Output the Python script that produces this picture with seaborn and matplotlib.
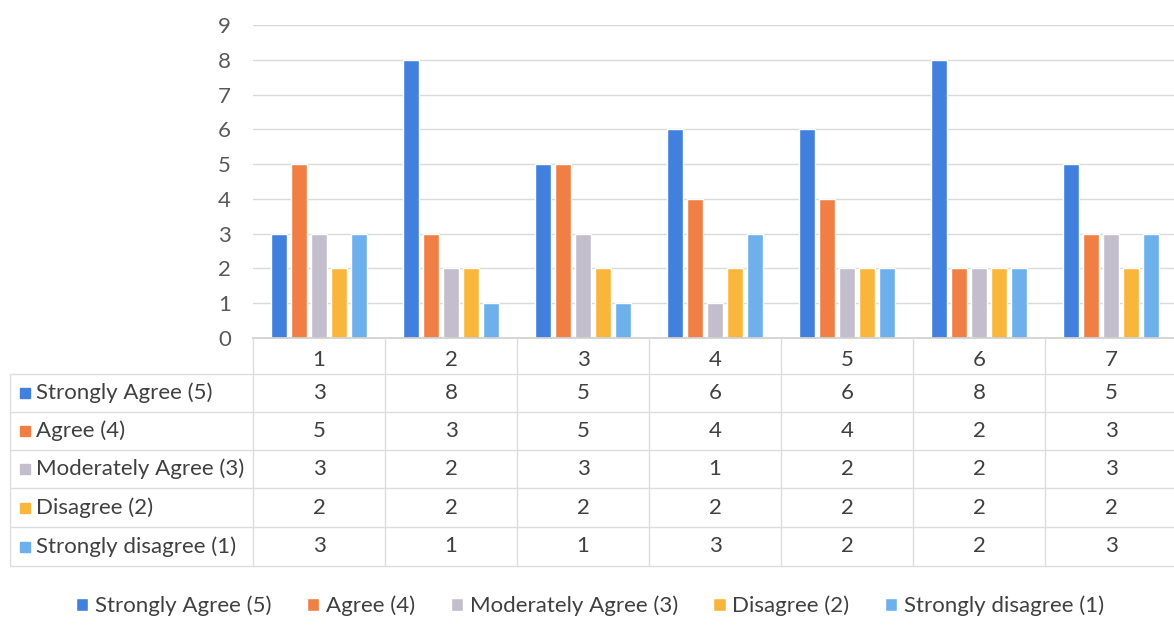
import pandas as pd
import matplotlib
matplotlib.use("Agg")
import matplotlib.pyplot as plt
from matplotlib.patches import Patch
import seaborn as sns

questions = ['1', '2', '3', '4', '5', '6', '7']
strongly_agree = [3, 8, 5, 6, 6, 8, 5]
agree = [5, 3, 5, 4, 4, 2, 3]
moderately_agree = [3, 2, 3, 1, 2, 2, 3]
disagree = [2, 2, 2, 2, 2, 2, 2]
strongly_disagree = [3, 1, 1, 3, 2, 2, 3]
series_names = ['Strongly Agree (5)', 'Agree (4)', 'Moderately Agree (3)',
                'Disagree (2)', 'Strongly disagree (1)']
yticks = list(range(0, 10))

colors = ['#4280DD', '#F07F45', '#C2BECC', '#F8B73C', '#6EB0EC']
series_values = [strongly_agree, agree, moderately_agree, disagree, strongly_disagree]

rows = []
for name, vals in zip(series_names, series_values):
    for q, v in zip(questions, vals):
        rows.append({'question': q, 'count': v, 'response': name})
df = pd.DataFrame(rows)

sns.set_theme(style='white')
plt.rcParams['font.family'] = ['Lato', 'DejaVu Sans']

W, H = 1174, 625
fig = plt.figure(figsize=(W / 100, H / 100), dpi=100)

# layout in pixels
col_left, col_w = 253, 132
y_zero, y_top = 338, 25
table_left = 10
row_edges = [374, 412, 450, 488, 527, 566]
n_cols = len(questions)
fs = 16

ax = fig.add_axes([col_left / W, 1 - y_zero / H, n_cols * col_w / W, (y_zero - y_top) / H])
sns.barplot(data=df, x='question', y='count', hue='response', palette=colors,
            width=0.76, gap=0.2, saturation=1, legend=False, ax=ax)
ax.set_xlim(-0.5, n_cols - 0.5)
ax.set_ylim(0, 9)
ax.set_yticks(yticks)
ax.set_yticklabels([str(t) for t in yticks], color='#595959', fontsize=fs)
ax.tick_params(axis='y', length=0, pad=16)
ax.set_xticks([])
ax.set_xlabel('')
ax.set_ylabel('')
ax.grid(axis='y', color='#DADADA', lw=1)
ax.set_axisbelow(True)
for s in ['top', 'right', 'left']:
    ax.spines[s].set_visible(False)
ax.spines['bottom'].set_color('#D0D0D0')

# data table drawn in pixel space
tax = fig.add_axes([0, 0, 1, 1])
tax.set_xlim(0, W)
tax.set_ylim(H, 0)
tax.axis('off')
line_c = '#DDDDDD'
for k in range(n_cols + 1):
    x = col_left + k * col_w
    tax.plot([x, x], [y_zero, row_edges[-1]], color=line_c, lw=1)
tax.plot([table_left, table_left], [row_edges[0], row_edges[-1]], color=line_c, lw=1)
for y in row_edges:
    tax.plot([table_left, col_left + n_cols * col_w], [y, y], color=line_c, lw=1)

text_c = '#404040'
for k, q in enumerate(questions):
    tax.text(col_left + (k + 0.5) * col_w, (y_zero + row_edges[0]) / 2 + 4, q,
             ha='center', va='center', fontsize=fs, color=text_c)
for r, (name, vals, c) in enumerate(zip(series_names, series_values, colors)):
    yc = (row_edges[r] + row_edges[r + 1]) / 2
    tax.add_patch(plt.Rectangle((20, yc - 5), 10, 10, color=c))
    tax.text(36, yc, name, ha='left', va='center', fontsize=fs, color=text_c)
    for k, v in enumerate(vals):
        tax.text(col_left + (k + 0.5) * col_w, yc, str(v),
                 ha='center', va='center', fontsize=fs, color=text_c)

handles = [Patch(facecolor=c, label=n) for n, c in zip(series_names, colors)]
fig.legend(handles=handles, loc='center', bbox_to_anchor=(590 / W, 1 - 606 / H),
           ncol=5, frameon=False, fontsize=fs, handlelength=0.55, handleheight=0.55,
           handletextpad=0.3, columnspacing=1.6, labelcolor=text_c)

fig.savefig('out.png', dpi=100)
